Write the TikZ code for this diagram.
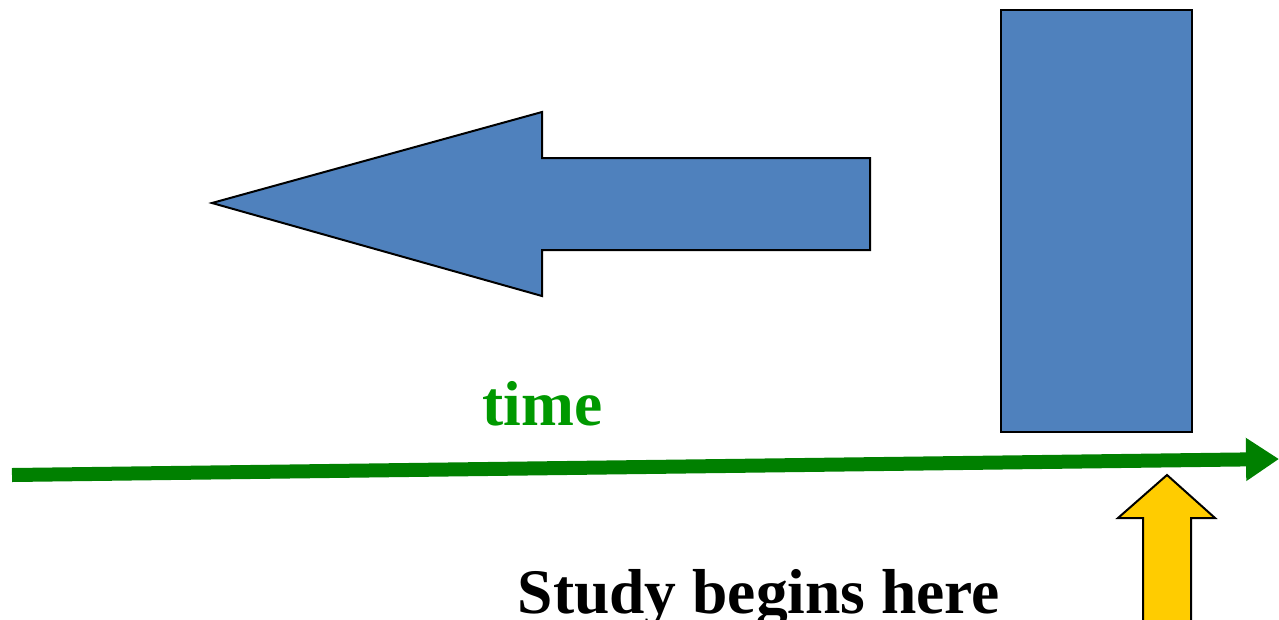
\documentclass[tikz,border=0pt]{standalone}
\usepackage{fontspec}
\setmainfont{Liberation Serif}
\usetikzlibrary{arrows.meta}
\definecolor{boxblue}{RGB}{79,129,189}
\definecolor{arrowyellow}{RGB}{255,204,0}
\definecolor{lineGreen}{RGB}{0,128,0}
\definecolor{textGreen}{RGB}{0,153,0}
\tikzset{
  block/.style={fill=boxblue, draw=black, line width=2pt, line join=miter},
  pointer/.style={fill=arrowyellow, draw=black, line width=2pt, line join=miter},
  timeline/.style={draw=lineGreen, line width=14pt, -{Triangle[length=33pt,width=41pt]}},
  bigtext/.style={font=\fontsize{63.5}{70}\selectfont\bfseries, inner sep=0pt, anchor=base}
}
\begin{document}
\begin{tikzpicture}[x=1pt,y=-1pt]
        \useasboundingbox (0,0) rectangle (1279,619);
        \clip (0,0) rectangle (1279,619);
        \draw[block] (212,203) -- (542,112) -- (542,158) -- (870,158) -- (870,250)
            -- (542,250) -- (542,296) -- cycle;
        \draw[block] (1001,10) rectangle (1192,432);
        \node[bigtext, text=textGreen] (time) at (542.5,425) {time};
        \coordinate (past) at (12,475);
        \coordinate (future) at (1279,459);
        \draw[timeline] (past) -- (future);
        \draw[pointer] (1167,475) -- (1215,518) -- (1191,518) -- (1191,640)
            -- (1143,640) -- (1143,518) -- (1118,518) -- cycle;
        \node[bigtext] (study) at (759,613) {Study begins here};
    \end{tikzpicture}
\end{document}
